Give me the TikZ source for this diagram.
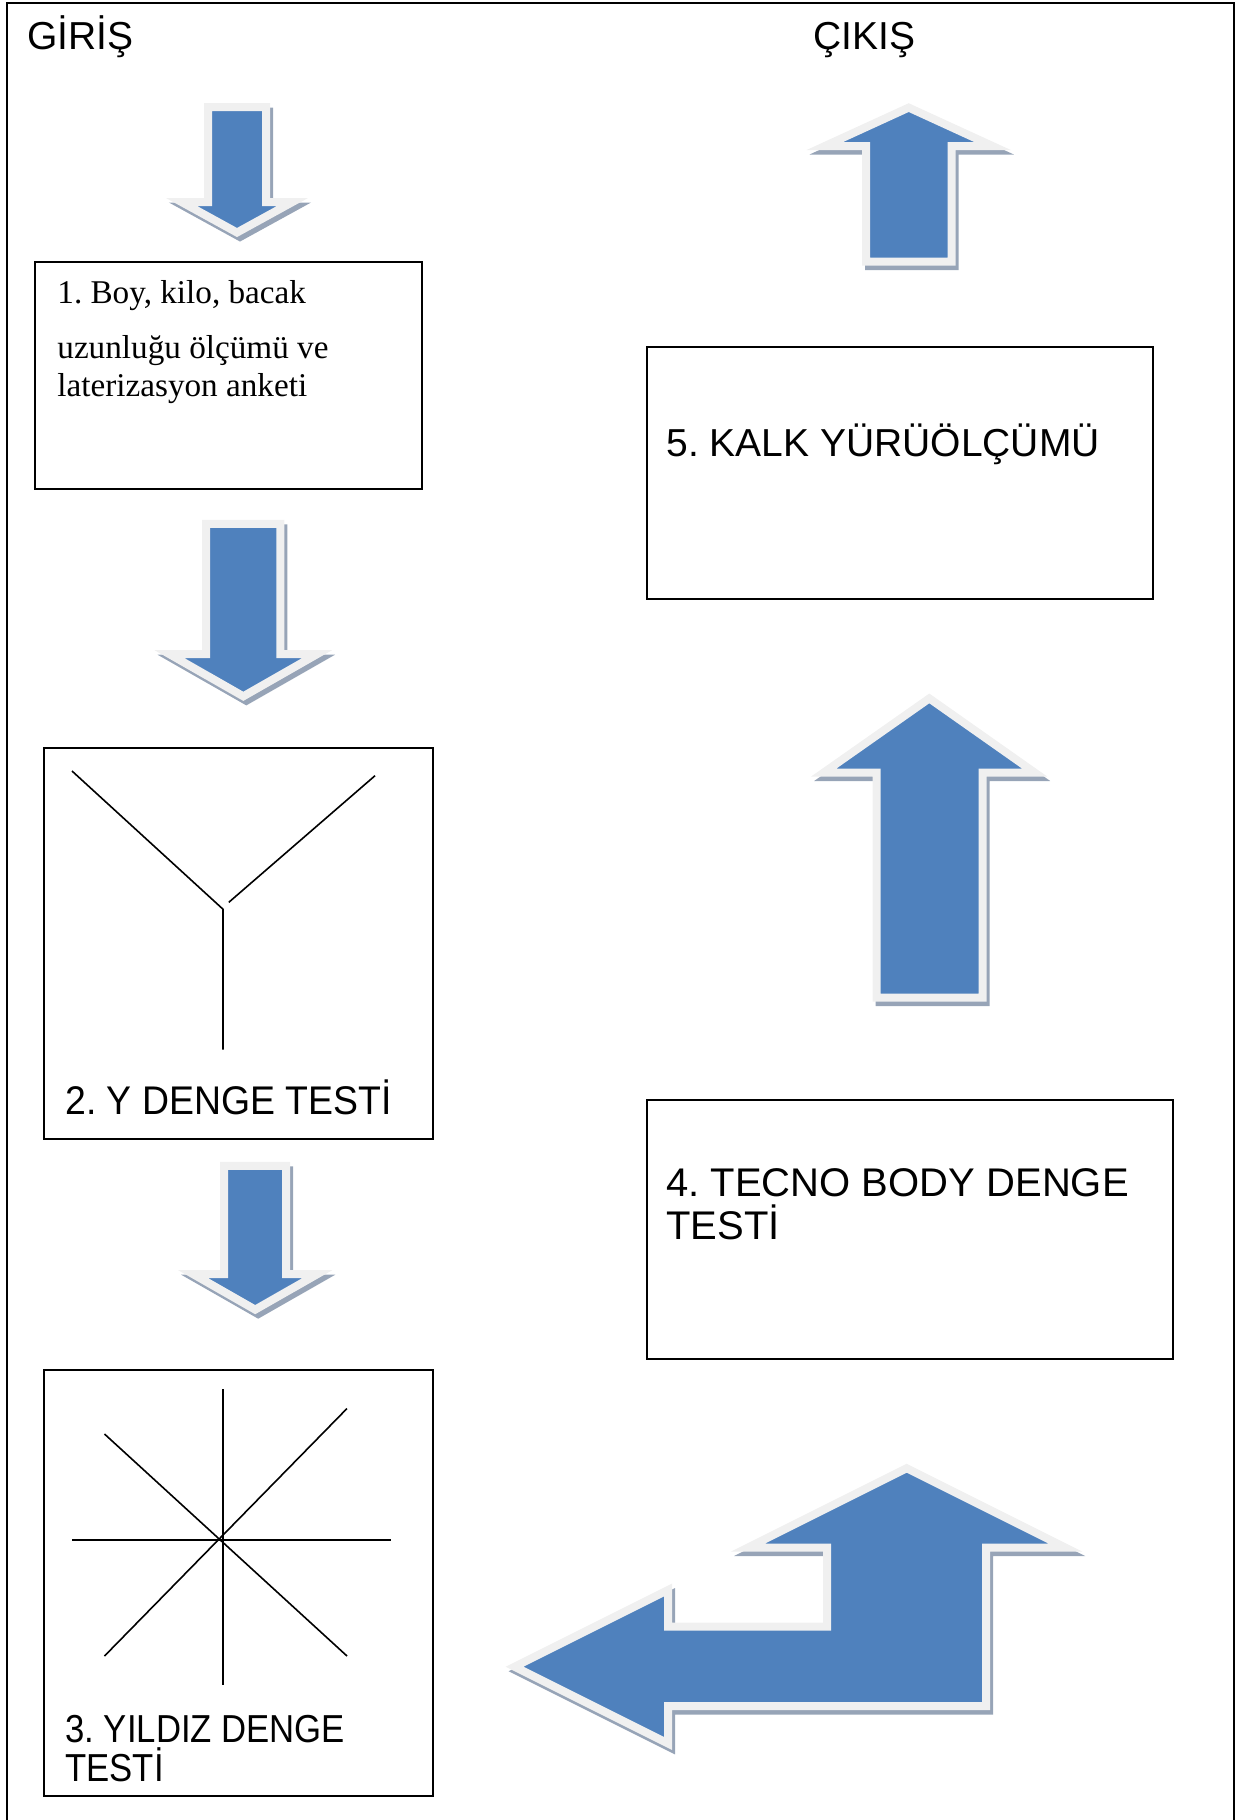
\documentclass[tikz,border=0pt]{standalone}
\usepackage{fontspec}
\setmainfont{Liberation Serif}
\newfontfamily\arialf{Liberation Sans}
\definecolor{blueA}{HTML}{4F81BD}
\definecolor{lightA}{HTML}{F0F0F0}
\definecolor{shadowA}{HTML}{97A4B7}
\tikzset{
  boxA/.style={draw=black, line width=1pt, inner sep=0pt},
  sanslbl/.style={anchor=base west, inner sep=0pt, font=\arialf\fontsize{19.5}{23}\selectfont},
  sansbig/.style={anchor=base west, inner sep=0pt, font=\arialf\fontsize{20}{23}\selectfont},
  seriflbl/.style={anchor=base west, inner sep=0pt, font=\fontsize{16.6}{20}\selectfont},
  arrshadow/.style={draw=shadowA, fill=shadowA, line width=4pt, shift={(3,4.5)}},
  arrbody/.style={draw=lightA, fill=blueA, line width=4pt},
  figline/.style={line width=0.8pt},
  frameline/.style={line width=1pt},
}
\newcommand\blockarr[1]{\path[arrshadow] #1; \path[arrbody] #1;}
\begin{document}
\frenchspacing
\begin{tikzpicture}[x=0.5pt,y=-0.5pt]
\useasboundingbox (0,0) rectangle (1239,1820);
% outer frame
\coordinate (fbl) at (7,1830);
\coordinate (ftl) at (7,2.5);
\coordinate (ftr) at (1234.4,2.5);
\coordinate (fbr) at (1234.4,1830);
\draw[frameline] (fbl) -- (ftl) -- (ftr) -- (fbr);

% block arrows
\blockarr{(208,107) -- (266,107) -- (266,202) -- (292.5,202) -- (237,232.5) -- (181.5,202) -- (208,202) -- cycle}
\blockarr{(206.2,523.8) -- (280.4,523.8) -- (280.4,654.2) -- (317,654.2) -- (243.3,696.3) -- (169.6,654.2) -- (206.2,654.2) -- cycle}
\blockarr{(224.2,1165.8) -- (286.2,1165.8) -- (286.2,1274.2) -- (317.2,1274.2) -- (255.2,1309.6) -- (193.2,1274.2) -- (224.2,1274.2) -- cycle}
\blockarr{(866,261.5) -- (866,146) -- (824.9,146) -- (908.7,107.6) -- (992.5,146) -- (951.5,146) -- (951.5,261.5) -- cycle}
\blockarr{(876.7,997.5) -- (876.7,772.5) -- (823.8,772.5) -- (929.3,698.4) -- (1034.6,772.5) -- (982.5,772.5) -- (982.5,997.5) -- cycle}
\blockarr{(906.7,1468.2) -- (1065.3,1547.5) -- (986,1547.5) -- (986,1706) -- (668,1706) -- (668,1743.4) -- (514.5,1666.7) -- (668,1590) -- (668,1626.7) -- (827,1626.7) -- (827,1547.5) -- (748.1,1547.5) -- cycle}

% boxes
\node[boxA, minimum width=193.4pt, minimum height=113.5pt] (b1) at (228.2,375) {};
\node[boxA, minimum width=194.5pt, minimum height=195.6pt] (b2) at (238.6,943.4) {};
\node[boxA, minimum width=194.5pt, minimum height=213.1pt] (b3) at (238.6,1583.3) {};
\node[boxA, minimum width=253.1pt, minimum height=126pt] (b5) at (899.9,473.2) {};
\node[boxA, minimum width=263pt, minimum height=129.45pt] (b4) at (909.8,1229.15) {};

% Y figure
\coordinate (yl) at (72,771);
\coordinate (yc) at (223,909.2);
\coordinate (yr) at (375,775.7);
\coordinate (yre) at (228.8,902.3);
\coordinate (yb) at (223,1049.7);
\draw[figline] (yl) -- (yc) -- (yb);
\draw[figline] (yr) -- (yre);

% star figure
\coordinate (st) at (223,1389);
\coordinate (sb) at (223,1685);
\coordinate (sl) at (72,1540);
\coordinate (sr) at (391,1540);
\coordinate (d1a) at (104.5,1434);
\coordinate (d1b) at (347,1656);
\coordinate (d2a) at (347,1408.5);
\coordinate (d2b) at (104.5,1656);
\draw[figline] (st) -- (sb);
\draw[figline] (sl) -- (sr);
\draw[figline] (d1a) -- (d1b);
\draw[figline] (d2a) -- (d2b);

% texts
\node[sanslbl] (giris) at (27,49) {GİRİŞ};
\node[sanslbl] (cikis) at (813,49) {ÇIKIŞ};
\node[seriflbl] (t1a) at (57,303.5) {1. Boy, kilo, bacak};
\node[seriflbl] (t1b) at (57,358.5) {uzunluğu ölçümü ve};
\node[seriflbl] (t1c) at (57,396.7) {laterizasyon anketi};
\node[sansbig] (t2) at (65,1114) {\scalebox{0.935}[1]{2. Y DENGE TESTİ}};
\node[sanslbl] (t3a) at (65,1742.7) {\scalebox{0.89}[1]{3. YILDIZ DENGE}};
\node[sanslbl] (t3b) at (65,1781.7) {\scalebox{0.89}[1]{TESTİ}};
\node[sansbig] (t4a) at (666,1196) {4. TECNO BODY DENGE};
\node[sansbig] (t4b) at (666,1239) {TESTİ};
\node[sanslbl] (t5) at (666,456.3) {5. KALK YÜRÜÖLÇÜMÜ};
\end{tikzpicture}
\end{document}
